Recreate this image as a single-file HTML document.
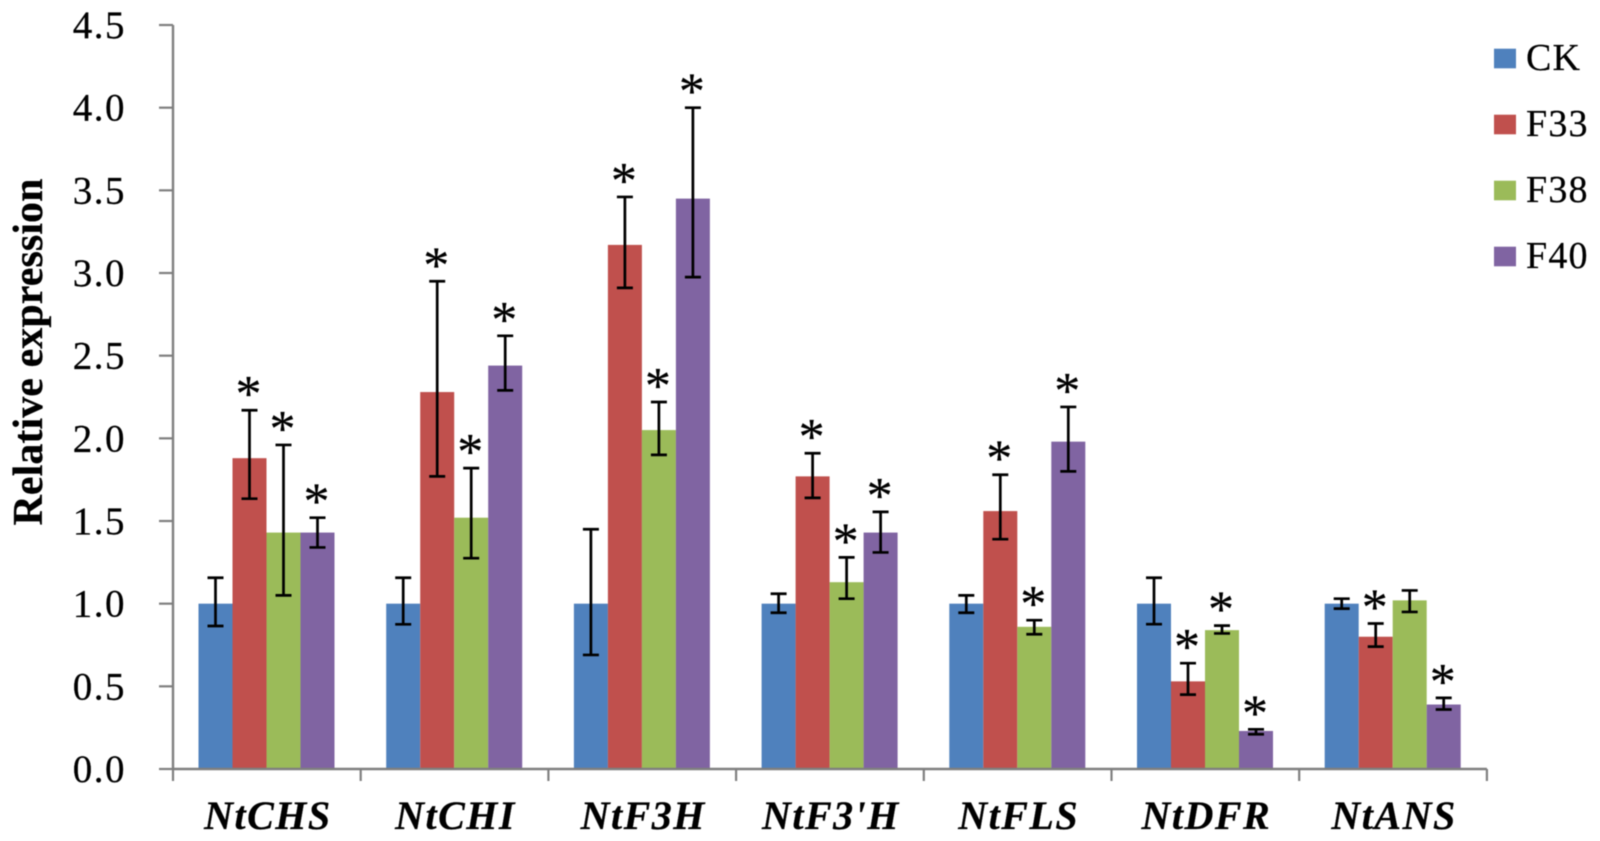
<!DOCTYPE html>
<html lang="en">
<head>
<meta charset="utf-8">
<title>Relative expression chart</title>
<style>
  html, body { margin: 0; padding: 0; background: #fff; width: 1600px; height: 841px; overflow: hidden; }
  svg { display: block; filter: blur(0.5px); }
  text { font-family: "Liberation Serif", serif; fill: #000; stroke: #000; stroke-width: 0.25px; }
</style>
</head>
<body>
<svg id="chart" xmlns="http://www.w3.org/2000/svg" width="1600" height="841" viewBox="0 0 1600 841"></svg>
<script>
const categories = ["NtCHS", "NtCHI", "NtF3H", "NtF3'H", "NtFLS", "NtDFR", "NtANS"];
const seriesNames = ["CK", "F33", "F38", "F40"];
const yTickValues = [0, 0.5, 1, 1.5, 2, 2.5, 3, 3.5, 4, 4.5];
const yTickLabels = ["0.0", "0.5", "1.0", "1.5", "2.0", "2.5", "3.0", "3.5", "4.0", "4.5"];

const valuesCK  = [1.00, 1.00, 1.00, 1.00, 1.00, 1.00, 1.00];
const valuesF33 = [1.88, 2.28, 3.17, 1.77, 1.56, 0.53, 0.80];
const valuesF38 = [1.43, 1.52, 2.05, 1.13, 0.86, 0.84, 1.02];
const valuesF40 = [1.43, 2.44, 3.45, 1.43, 1.98, 0.23, 0.39];

const upperCK  = [1.157, 1.157, 1.45, 1.06, 1.05, 1.157, 1.03];
const upperF33 = [2.17, 2.95, 3.46, 1.91, 1.78, 0.64, 0.88];
const upperF38 = [1.96, 1.82, 2.22, 1.28, 0.90, 0.867, 1.08];
const upperF40 = [1.52, 2.62, 4.00, 1.555, 2.19, 0.24, 0.43];

const lowerCK  = [0.865, 0.875, 0.69, 0.945, 0.945, 0.876, 0.97];
const lowerF33 = [1.635, 1.77, 2.91, 1.64, 1.39, 0.45, 0.74];
const lowerF38 = [1.05, 1.275, 1.90, 1.03, 0.815, 0.82, 0.95];
const lowerF40 = [1.34, 2.29, 2.975, 1.31, 1.80, 0.21, 0.36];

const starsCK  = [0, 0, 0, 0, 0, 0, 0];
const starsF33 = [1, 1, 1, 1, 1, 1, 1];
const starsF38 = [1, 1, 1, 1, 1, 1, 0];
const starsF40 = [1, 1, 1, 1, 1, 1, 1];

const seriesValues = [valuesCK, valuesF33, valuesF38, valuesF40];
const seriesUpper = [upperCK, upperF33, upperF38, upperF40];
const seriesLower = [lowerCK, lowerF33, lowerF38, lowerF40];
const seriesStars = [starsCK, starsF33, starsF38, starsF40];
const seriesColors = ["#4F81BD", "#C0504D", "#9BBB59", "#8064A2"];

const svg = document.getElementById('chart');
const NS = 'http://www.w3.org/2000/svg';
const axisLeft = 173, axisBottom = 769, unitHeight = 165.33, groupWidth = 187.7;
const barOffset = 25.5, barWidth = 34;

function yScale(v) { return axisBottom - v * unitHeight; }
function groupX(i) { return axisLeft + i * groupWidth; }
function barX(g, s) { return groupX(g) + barOffset + s * barWidth; }

function make(tag, attrs, text) {
  const el = document.createElementNS(NS, tag);
  for (const k in attrs) el.setAttribute(k, attrs[k]);
  if (text !== undefined) el.textContent = text;
  svg.appendChild(el);
  return el;
}

// Bars
seriesValues.forEach(function (vals, s) {
  vals.forEach(function (v, g) {
    const bar = make('rect', {
      x: barX(g, s), y: yScale(v), width: barWidth, height: axisBottom - yScale(v), fill: seriesColors[s]
    });
    
    
  });
});

// Axes
const yAxis = make('line', { x1: axisLeft, y1: yScale(4.5), x2: axisLeft, y2: axisBottom, stroke: '#7f7f7f', 'stroke-width': 2.4 });


const xAxis = make('line', { x1: axisLeft, y1: axisBottom, x2: groupX(categories.length), y2: axisBottom, stroke: '#7f7f7f', 'stroke-width': 2.4 });



yTickValues.forEach(function (v, i) {
  const tick = make('line', { x1: axisLeft - 14, y1: yScale(v), x2: axisLeft, y2: yScale(v), stroke: '#7f7f7f', 'stroke-width': 2.2 });
  
  
  const label = make('text', { x: 126, y: yScale(v) + 13, 'text-anchor': 'end', 'font-size': 39, 'letter-spacing': 1.5 }, yTickLabels[i]);
  
  
});

for (let i = 0; i <= categories.length; i++) {
  const tick = make('line', { x1: groupX(i), y1: axisBottom, x2: groupX(i), y2: axisBottom + 12, stroke: '#7f7f7f', 'stroke-width': 2.2 });
  
  
}

categories.forEach(function (c, g) {
  const label = make('text', {
    x: groupX(g) + groupWidth / 2 + 1, y: 829, 'text-anchor': 'middle', 'font-size': 40,
    'font-weight': 'bold', 'font-style': 'italic', 'letter-spacing': 1.5
  }, c);
  
  
});

// Error bars and significance stars
seriesValues.forEach(function (vals, s) {
  vals.forEach(function (v, g) {
    const cx = barX(g, s) + barWidth / 2;
    const top = yScale(seriesUpper[s][g]);
    const bot = yScale(seriesLower[s][g]);
    const capHalf = 8;
    const err = make('path', {
      d: 'M' + (cx - capHalf) + ' ' + top + 'H' + (cx + capHalf) + 'M' + cx + ' ' + top + 'V' + bot + 'M' + (cx - capHalf) + ' ' + bot + 'H' + (cx + capHalf),
      fill: 'none', stroke: '#000', 'stroke-width': 2.7
    });
    
    
    if (seriesStars[s][g]) {
      const star = make('text', { x: cx - 1, y: top + 1, 'text-anchor': 'middle', 'font-size': 52 }, '*');
      
      
    }
  });
});

// Y axis title
const yTitle = make('text', {
  x: 0, y: 0, 'text-anchor': 'middle', 'font-size': 42, 'font-weight': 'bold',
  transform: 'translate(42 352) rotate(-90)', textLength: 347, lengthAdjust: 'spacing'
}, 'Relative expression');



// Legend
seriesNames.forEach(function (n, i) {
  const swatch = make('rect', { x: 1494, y: 48.7 + i * 66, width: 22, height: 19.6, fill: seriesColors[i] });
  
  
  const label = make('text', { x: 1526, y: 70 + i * 66, 'font-size': 38, 'letter-spacing': 1.2 }, n);
  
  
});
</script>
</body>
</html>
